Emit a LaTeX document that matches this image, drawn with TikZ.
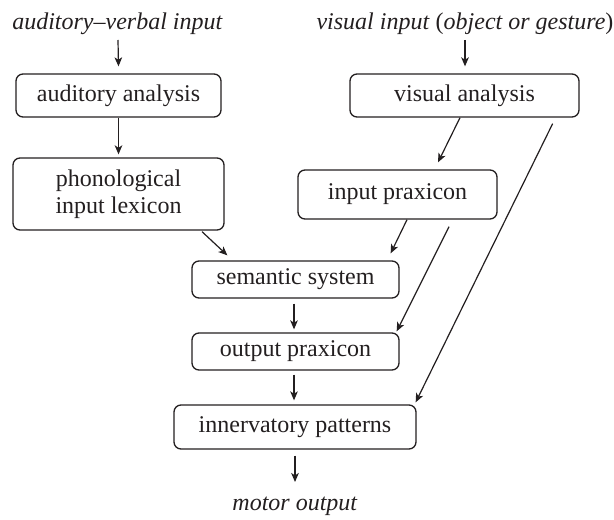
\documentclass[tikz,border=0pt]{standalone}
\usepackage{fontspec}
\setmainfont{Liberation Serif}
\usetikzlibrary{arrows.meta,calc}
\definecolor{ink}{HTML}{231F20}
\begin{document}
\begin{tikzpicture}[x=0.5pt,y=-0.5pt,
  box/.style={draw=ink,line width=0.65pt,rounded corners=3.5pt,align=center,
    inner sep=0pt,font=\fontsize{12}{13.5}\selectfont,text=ink},
  lbl/.style={inner sep=0pt,anchor=base,font=\fontsize{12}{14}\selectfont,text=ink},
  arr/.style={draw=ink,line width=0.6pt,-{Stealth[length=4.5pt,width=3.8pt,inset=1.2pt]}},
  ln/.style={draw=ink,line width=0.6pt}]
\useasboundingbox (0,0) rectangle (614,519);
% labels
\node[lbl] (avin) at (117.5,30) {\textit{auditory--verbal input}};
\node[lbl] (vin) at (465,30) {\textit{visual input} (\textit{object or gesture})};
\node[lbl] (mout) at (295,510) {\textit{motor output}};
% boxes
\node[box,minimum width=102.5pt,minimum height=21.5pt] (aa) at (118.5,95.5) {auditory analysis};
\node[box,minimum width=114.5pt,minimum height=21.5pt] (va) at (464.5,95.5) {visual analysis};
\node[box,minimum width=105.5pt,minimum height=36pt] (pil) at (118.5,194) {phonological\\input lexicon};
\node[box,minimum width=99.5pt,minimum height=24.5pt] (ip) at (397.5,194.5) {input praxicon};
\node[box,minimum width=103.5pt,minimum height=18.5pt] (ss) at (295.5,279.5) {semantic system};
\node[box,minimum width=103.5pt,minimum height=18.5pt] (op) at (295.5,351.5) {output praxicon};
\node[box,minimum width=121pt,minimum height=22pt] (inv) at (295,427) {innervatory patterns};
% connectors
\draw[arr] ($(avin.base)+(0.5,10)$) -- ($(aa.north)+(0,-7)$);
\draw[arr] ($(vin.base)+(0,10)$) -- ($(va.north)+(0.5,-7)$);
\draw[arr] (aa.south) -- ($(pil.north)+(0,-3)$);
\draw[arr] ($(pil.south)+(83.5,1)$) -- ($(ss.north west)+(36,-5)$);
\draw[arr] ($(va.south)+(-4.5,0)$) -- ($(ip.north)+(40.5,-7)$);
\draw[arr] ($(va.south east)+(-27,6)$) -- ($(inv.north east)+(-1,-2)$);
\draw[arr] ($(ip.south)+(9.5,0)$) -- ($(ss.north east)+(-9,-7)$);
\draw[arr] ($(ip.south)+(51.5,7)$) -- ($(op.north east)+(-3,-1)$);
\draw[arr] ($(ss.south)+(-1.5,5)$) -- ($(op.north)+(-1.5,-3)$);
\draw[arr] ($(op.south)+(-1.5,4)$) -- ($(inv.north)+(-1,-4)$);
\draw[arr] ($(inv.south)+(0,6)$) -- ($(mout.base)+(0,-28)$);
\end{tikzpicture}
\end{document}
